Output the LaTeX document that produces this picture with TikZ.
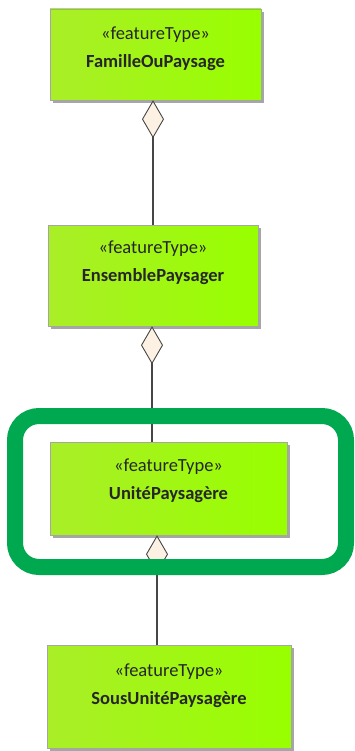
\documentclass[tikz,border=0pt]{standalone}
\usepackage{fontspec}
\setmainfont{Carlito}
\usepackage{tikz}
\usetikzlibrary{shapes,arrows.meta,shadows,calc}
\usetikzlibrary{positioning}
\definecolor{clrBorders}{RGB}{165,165,165}
\definecolor{clrLeft}{RGB}{170,238,40}
\definecolor{clrRight}{RGB}{152,255,0}
\definecolor{clrLine}{RGB}{70,70,70}
\definecolor{clrDiamond}{RGB}{252,241,226}
\definecolor{clrFrame}{RGB}{0,168,80}
\tikzstyle{box_style}=[draw=clrBorders, thin, left color=clrLeft, right color=clrRight,
drop shadow={shadow xshift=3pt, shadow yshift=-3pt, fill=black!35, opacity=1}]
\tikzstyle{txt_style}=[anchor=north, inner sep=0pt, align=center, text=black!85,
font=\fontsize{18.5}{28}\selectfont]
\tikzstyle{aggreg}=[line width=1.3pt, draw=clrLine,
-{Diamond[length=38pt, width=22pt, fill=clrDiamond, line width=0.9pt]}]
\tikzstyle{highlight_frame}=[draw=clrFrame, line width=16pt, rounded corners=24pt]

\begin{document}
\begin{tikzpicture}[x=1pt, y=-1pt]
		\useasboundingbox (0,0) rectangle (354,751);

		\node[box_style, minimum width=211pt, minimum height=91pt] (A) at (155.5,54.5) {};
		\node[txt_style, below=18pt of A.north] (tA) {«featureType»\\\textbf{FamilleOuPaysage}};

		\node[box_style, minimum width=210pt, minimum height=101pt] (B) at (153,275.5) {};
		\node[txt_style, below=16pt of B.north] (tB) {«featureType»\\\textbf{EnsemblePaysager}};

		\node[box_style, minimum width=237pt, minimum height=93pt] (C) at (168.5,488.5) {};
		\node[txt_style, below=17pt of C.north] (tC) {«featureType»\\\textbf{UnitéPaysagère}};

		\node[box_style, minimum width=244pt, minimum height=103pt] (D) at (169,696.5) {};
		\node[txt_style, below=19pt of D.north] (tD) {«featureType»\\\textbf{SousUnitéPaysagère}};

		% aggregations
		\coordinate (xAB) at (153,0);
		\coordinate (xBC) at (152,0);
		\coordinate (xCD) at (157,0);
		\draw[aggreg] (B.north -| xAB) -- (A.south -| xAB);
		\draw[aggreg] (C.north -| xBC) -- (B.south -| xBC);
		\draw[aggreg] (D.north -| xCD) -- (C.south -| xCD);

		\draw[highlight_frame] (15,416) rectangle (346,567);
\end{tikzpicture}
\end{document}
